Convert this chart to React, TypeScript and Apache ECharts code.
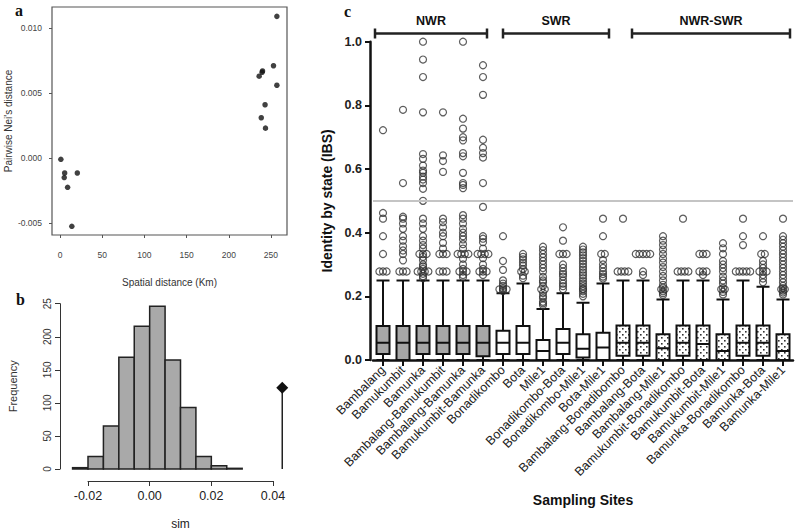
import React, { useEffect, useRef } from "react";
import * as echarts from "echarts";

// ---------- Panel a: isolation by distance ----------
const spatialKm = [1, 5.5, 5, 9, 20.5, 14, 236, 239.5, 240, 238.5, 243, 243.5, 253, 257, 257];
const neiDistance = [-0.0001, -0.00115, -0.0015, -0.00225, -0.00115, -0.00525, 0.0063, 0.0066, 0.0067, 0.0031, 0.0041, 0.0023, 0.0071, 0.0109, 0.0056];
const aXTicks = [0, 50, 100, 150, 200, 250];
const aYTicks = [-0.005, 0, 0.005, 0.01];

// ---------- Panel b: Mantel randomisation histogram ----------
const binEdges = [-0.025, -0.02, -0.015, -0.01, -0.005, 0, 0.005, 0.01, 0.015, 0.02, 0.025, 0.03];
const binCounts = [2, 19, 65, 169, 216, 246, 165, 93, 19, 5, 1];
const observedSim = 0.043;
const observedHeight = 123;

// ---------- Panel c: IBS boxplots ----------
const sites = [
  "Bambalang", "Bamukumbit", "Bamunka", "Bambalang-Bamukumbit", "Bambalang-Bamunka", "Bamukumbit-Bamunka",
  "Bonadikombo", "Bota", "Mile1", "Bonadikombo-Bota", "Bonadikombo-Mile1", "Bota-Mile1",
  "Bambalang-Bonadibombo", "Bambalang-Bota", "Bambalang-Mile1", "Bamukumbit-Bonadikombo", "Bamukumbit-Bota",
  "Bamukumbit-Mile1", "Bamunka-Bonadikombo", "Bamunka-Bota", "Bamunka-Mile1",
];
const siteGroup = ["NWR", "NWR", "NWR", "NWR", "NWR", "NWR", "SWR", "SWR", "SWR", "SWR", "SWR", "SWR",
  "NWR-SWR", "NWR-SWR", "NWR-SWR", "NWR-SWR", "NWR-SWR", "NWR-SWR", "NWR-SWR", "NWR-SWR", "NWR-SWR"];
// [lower whisker, Q1, median, Q3, upper whisker]
const boxStats = [
  [0, 0.019, 0.054, 0.107, 0.25],
  [0, 0, 0.054, 0.107, 0.25],
  [0, 0.019, 0.054, 0.107, 0.25],
  [0, 0.019, 0.054, 0.107, 0.25],
  [0, 0.019, 0.054, 0.107, 0.25],
  [0, 0.012, 0.054, 0.107, 0.25],
  [0, 0.019, 0.054, 0.092, 0.21],
  [0, 0.019, 0.054, 0.107, 0.24],
  [0, 0, 0.028, 0.063, 0.16],
  [0, 0.019, 0.054, 0.097, 0.21],
  [0, 0.008, 0.035, 0.081, 0.18],
  [0, 0, 0.039, 0.086, 0.24],
  [0, 0.013, 0.054, 0.108, 0.25],
  [0, 0.013, 0.054, 0.108, 0.25],
  [0, 0, 0.037, 0.081, 0.19],
  [0, 0.013, 0.054, 0.108, 0.25],
  [0, 0, 0.05, 0.108, 0.25],
  [0, 0, 0.028, 0.081, 0.19],
  [0, 0.013, 0.054, 0.108, 0.25],
  [0, 0.013, 0.054, 0.108, 0.23],
  [0, 0, 0.028, 0.081, 0.19],
];
const outliers = [
  [0.722, 0.462, 0.444, 0.389, 0.333, 0.278, 0.278, 0.278],
  [0.786, 0.556, 0.45, 0.444, 0.429, 0.412, 0.389, 0.375, 0.357, 0.344, 0.333, 0.313, 0.278, 0.278, 0.278],
  [1.0, 0.944, 0.889, 0.778, 0.647, 0.632, 0.611, 0.595, 0.588, 0.576, 0.567, 0.556, 0.538, 0.5, 0.444, 0.429, 0.412, 0.389, 0.375, 0.361, 0.35, 0.333, 0.333, 0.333, 0.324, 0.313, 0.3, 0.294, 0.286, 0.278, 0.278, 0.278, 0.278, 0.271, 0.263, 0.257],
  [0.778, 0.643, 0.625, 0.591, 0.444, 0.433, 0.417, 0.4, 0.389, 0.368, 0.35, 0.333, 0.333, 0.333, 0.278, 0.278, 0.278],
  [1.0, 0.758, 0.727, 0.7, 0.69, 0.65, 0.64, 0.588, 0.556, 0.55, 0.54, 0.455, 0.444, 0.429, 0.412, 0.4, 0.389, 0.379, 0.364, 0.35, 0.333, 0.333, 0.333, 0.333, 0.318, 0.3, 0.286, 0.278, 0.278, 0.278, 0.267, 0.26],
  [0.926, 0.889, 0.833, 0.692, 0.667, 0.65, 0.636, 0.556, 0.481, 0.389, 0.381, 0.37, 0.35, 0.333, 0.333, 0.333, 0.333, 0.32, 0.3, 0.286, 0.278, 0.278, 0.278, 0.267],
  [0.389, 0.311, 0.283, 0.25, 0.24, 0.233, 0.226, 0.222, 0.222, 0.222, 0.217],
  [0.333, 0.324, 0.316, 0.306, 0.297, 0.286, 0.278, 0.278, 0.265, 0.257],
  [0.356, 0.345, 0.333, 0.322, 0.311, 0.3, 0.289, 0.278, 0.261, 0.25, 0.244, 0.233, 0.222, 0.222, 0.211, 0.2, 0.194, 0.183, 0.178, 0.172],
  [0.417, 0.375, 0.333, 0.333, 0.333, 0.3, 0.289, 0.278, 0.27, 0.262, 0.25, 0.24, 0.232, 0.222],
  [0.356, 0.347, 0.338, 0.329, 0.32, 0.311, 0.302, 0.293, 0.284, 0.275, 0.266, 0.257, 0.248, 0.24, 0.232, 0.224, 0.222, 0.216, 0.208, 0.2],
  [0.444, 0.389, 0.333, 0.333, 0.314, 0.3, 0.289, 0.278, 0.27, 0.262, 0.256],
  [0.444, 0.278, 0.278, 0.278, 0.278],
  [0.333, 0.333, 0.333, 0.333, 0.333, 0.278, 0.267],
  [0.389, 0.375, 0.361, 0.347, 0.333, 0.319, 0.306, 0.292, 0.278, 0.264, 0.25, 0.236, 0.228, 0.222, 0.222, 0.216, 0.21, 0.204],
  [0.444, 0.278, 0.278, 0.278, 0.278],
  [0.333, 0.333, 0.333, 0.278, 0.278, 0.278, 0.267],
  [0.367, 0.351, 0.333, 0.311, 0.3, 0.289, 0.278, 0.262, 0.25, 0.24, 0.226, 0.222, 0.222, 0.214, 0.206],
  [0.444, 0.389, 0.361, 0.278, 0.278, 0.278, 0.278, 0.278],
  [0.389, 0.333, 0.333, 0.311, 0.3, 0.289, 0.278, 0.278, 0.278, 0.267, 0.256, 0.244],
  [0.444, 0.389, 0.378, 0.367, 0.356, 0.344, 0.333, 0.322, 0.311, 0.3, 0.289, 0.278, 0.267, 0.256, 0.244, 0.233, 0.226, 0.222, 0.222, 0.218, 0.212, 0.206],
];
const identityThreshold = 0.5;

const SANS = "Liberation Sans, Arial, sans-serif";
const SERIF = "Liberation Serif, Times New Roman, serif";

export default function App() {
  const ref = useRef<HTMLDivElement>(null);

  useEffect(() => {
    if (!ref.current) return;
    const chart = echarts.init(ref.current, undefined, { renderer: "svg" });

    // dotted fill pattern for NWR-SWR boxes
    const cv = document.createElement("canvas");
    cv.width = 6;
    cv.height = 6;
    const ctx = cv.getContext("2d")!;
    ctx.fillStyle = "#ffffff";
    ctx.fillRect(0, 0, 6, 6);
    ctx.fillStyle = "#333333";
    ctx.fillRect(1, 1, 1.6, 1.6);
    ctx.fillRect(4, 4, 1.6, 1.6);
    const dotted: any = { image: cv.toDataURL(), repeat: "repeat", imageWidth: 6, imageHeight: 6 };

    const groupFill: Record<string, any> = { NWR: "#a7a7a7", SWR: "#ffffff", "NWR-SWR": dotted };

    const boxData = boxStats.map((s, i) => ({
      value: s,
      itemStyle: { color: groupFill[siteGroup[i]] },
    }));

    const outlierPoints: number[][] = [];
    outliers.forEach((vals, i) => {
      const counts: Record<string, number> = {};
      vals.forEach((v) => (counts[v] = (counts[v] || 0) + 1));
      const seen: Record<string, number> = {};
      vals.forEach((v) => {
        const n = counts[v];
        const k = seen[v] || 0;
        seen[v] = k + 1;
        outlierPoints.push([i + (k - (n - 1) / 2) * 0.18, v]);
      });
    });

    const histData = binCounts.map((c, i) => [binEdges[i], binEdges[i + 1], c]);

    const brackets = [
      { x1: 375, x2: 487, label: "NWR" },
      { x1: 503, x2: 609, label: "SWR" },
      { x1: 632, x2: 790, label: "NWR-SWR" },
    ];
    const graphic: any[] = [
      { type: "text", x: 15, y: 10, style: { text: "a", font: `bold 16px ${SERIF}`, fill: "#111", verticalAlign: "middle" } },
      { type: "text", x: 16, y: 299, style: { text: "b", font: `bold 16px ${SERIF}`, fill: "#111", verticalAlign: "middle" } },
      { type: "text", x: 344, y: 11, style: { text: "c", font: `bold 16px ${SERIF}`, fill: "#111", verticalAlign: "middle" } },
    ];
    brackets.forEach((b) => {
      graphic.push({ type: "line", shape: { x1: b.x1, y1: 33.5, x2: b.x2, y2: 33.5 }, style: { stroke: "#222", lineWidth: 2.5 } });
      graphic.push({ type: "line", shape: { x1: b.x1, y1: 28.5, x2: b.x1, y2: 38.5 }, style: { stroke: "#222", lineWidth: 2.5 } });
      graphic.push({ type: "line", shape: { x1: b.x2, y1: 28.5, x2: b.x2, y2: 38.5 }, style: { stroke: "#222", lineWidth: 2.5 } });
      graphic.push({
        type: "text", x: (b.x1 + b.x2) / 2, y: 21,
        style: { text: b.label, font: `bold 12.5px ${SANS}`, fill: "#111", align: "center", verticalAlign: "middle" },
      });
    });

    const option: any = {
      animation: false,
      backgroundColor: "#ffffff",
      graphic,
      grid: [
        { left: 52, top: 7, width: 235, height: 228, show: true, borderColor: "#555", borderWidth: 1.2, backgroundColor: "transparent" },
        { left: 88, top: 303.7, width: 185, height: 165.3 },
        { left: 373, top: 41.7, width: 420, height: 318.3 },
      ],
      xAxis: [
        {
          type: "value", gridIndex: 0, min: -9.5, max: 269,
          axisLine: { show: false, onZero: false }, splitLine: { show: false },
          axisTick: { show: true, customValues: aXTicks, length: 3, lineStyle: { color: "#555" } },
          axisLabel: { customValues: aXTicks, fontSize: 8.5, color: "#444", margin: 15, fontFamily: SANS },
          name: "Spatial distance (Km)", nameLocation: "middle", nameGap: 42,
          nameTextStyle: { fontSize: 10, color: "#333", fontFamily: SANS },
        },
        {
          type: "value", gridIndex: 1, min: -0.02, max: 0.04, interval: 0.02, offset: 12,
          splitLine: { show: false },
          axisLine: { show: true, onZero: false, lineStyle: { color: "#333", width: 1 } },
          axisTick: { show: true, length: 5, lineStyle: { color: "#333" } },
          axisLabel: { fontSize: 12.5, color: "#222", margin: 8, fontFamily: SANS, formatter: (v: number) => v.toFixed(2) },
          name: "sim", nameLocation: "middle", nameGap: 37,
          nameTextStyle: { fontSize: 12, color: "#222", fontFamily: SANS },
        },
        {
          type: "category", gridIndex: 2, data: sites,
          axisLine: { show: true, onZero: false, lineStyle: { color: "#111", width: 2.5 } },
          axisTick: { show: true, alignWithLabel: true, length: 6, lineStyle: { color: "#111", width: 2 } },
          axisLabel: { rotate: 45, interval: 0, fontSize: 12.5, color: "#222", margin: 8, fontFamily: SANS },
          name: "Sampling Sites", nameLocation: "middle", nameGap: 133,
          nameTextStyle: { fontSize: 14, fontWeight: "bold", color: "#111", fontFamily: SANS },
        },
        { type: "value", gridIndex: 2, min: -0.5, max: 20.5, show: false, axisLine: { onZero: false } },
      ],
      yAxis: [
        {
          type: "value", gridIndex: 0, min: -0.00592, max: 0.01162,
          axisLine: { show: false, onZero: false }, splitLine: { show: false },
          axisTick: { show: true, customValues: aYTicks, length: 3, lineStyle: { color: "#555" } },
          axisLabel: { customValues: aYTicks, fontSize: 8.5, color: "#444", margin: 10, fontFamily: SANS, formatter: (v: number) => v.toFixed(3) },
          name: "Pairwise Nei's distance", nameLocation: "middle", nameGap: 35,
          nameTextStyle: { fontSize: 10, color: "#333", fontFamily: SANS },
        },
        {
          type: "value", gridIndex: 1, min: 0, max: 250, interval: 50, offset: 28,
          splitLine: { show: false },
          axisLine: { show: true, onZero: false, lineStyle: { color: "#333", width: 1 } },
          axisTick: { show: true, length: 5, lineStyle: { color: "#333" } },
          axisLabel: { rotate: 90, fontSize: 10, color: "#333", margin: 8, fontFamily: SANS, formatter: (v: number) => (v === 250 ? "25" : String(v)) },
          name: "Frequency", nameLocation: "middle", nameGap: 42,
          nameTextStyle: { fontSize: 11, color: "#333", fontFamily: SANS },
        },
        {
          type: "value", gridIndex: 2, min: 0, max: 1, interval: 0.2, offset: 3,
          splitLine: { show: false },
          axisLine: { show: true, onZero: false, lineStyle: { color: "#111", width: 2.5 } },
          axisTick: { show: true, length: 5, lineStyle: { color: "#111", width: 2 } },
          axisLabel: { fontSize: 12.5, fontWeight: "bold", color: "#222", margin: 8, fontFamily: SANS, formatter: (v: number) => v.toFixed(1) },
          name: "Identity by state (IBS)", nameLocation: "middle", nameGap: 32,
          nameTextStyle: { fontSize: 14, fontWeight: "bold", color: "#111", fontFamily: SANS },
        },
      ],
      series: [
        {
          type: "scatter", xAxisIndex: 0, yAxisIndex: 0, symbolSize: 5.5,
          itemStyle: { color: "#111" },
          data: spatialKm.map((x, i) => [x, neiDistance[i]]),
        },
        {
          type: "custom", xAxisIndex: 1, yAxisIndex: 1,
          encode: { x: [0, 1], y: 2 },
          data: histData,
          renderItem: (params: any, api: any) => {
            const p0 = api.coord([api.value(0), api.value(2)]);
            const p1 = api.coord([api.value(1), 0]);
            return {
              type: "rect",
              shape: { x: p0[0], y: p0[1], width: p1[0] - p0[0], height: p1[1] - p0[1] },
              style: { fill: "#a9a9a9", stroke: "#222", lineWidth: 1.5 },
            };
          },
        },
        {
          type: "custom", xAxisIndex: 1, yAxisIndex: 1,
          encode: { x: 0, y: 1 },
          data: [[observedSim, observedHeight]],
          renderItem: (params: any, api: any) => {
            const top = api.coord([api.value(0), api.value(1)]);
            const base = api.coord([api.value(0), 0]);
            const r = 6;
            return {
              type: "group",
              children: [
                { type: "line", shape: { x1: base[0], y1: base[1], x2: top[0], y2: top[1] }, style: { stroke: "#222", lineWidth: 1.5 } },
                {
                  type: "polygon",
                  shape: { points: [[top[0], top[1] - r], [top[0] + r, top[1]], [top[0], top[1] + r], [top[0] - r, top[1]]] },
                  style: { fill: "#111" },
                },
              ],
            };
          },
        },
        {
          type: "boxplot", xAxisIndex: 2, yAxisIndex: 2,
          boxWidth: [13, 13],
          itemStyle: { borderColor: "#111", borderWidth: 2 },
          data: boxData,
          markLine: {
            silent: true, symbol: "none", label: { show: false },
            lineStyle: { color: "#c4c4c4", width: 2, type: "solid" },
            data: [{ yAxis: identityThreshold }],
          },
        },
        {
          type: "scatter", xAxisIndex: 3, yAxisIndex: 2, clip: false,
          symbol: "circle", symbolSize: 7,
          itemStyle: { color: "rgba(255,255,255,0)", borderColor: "#333", borderWidth: 1.2 },
          data: outlierPoints,
        },
      ],
    };

    chart.setOption(option);
    return () => chart.dispose();
  }, []);

  return <div ref={ref} style={{ position: "fixed", left: 0, top: 0, width: 800, height: 532, background: "#fff" }} />;
}
